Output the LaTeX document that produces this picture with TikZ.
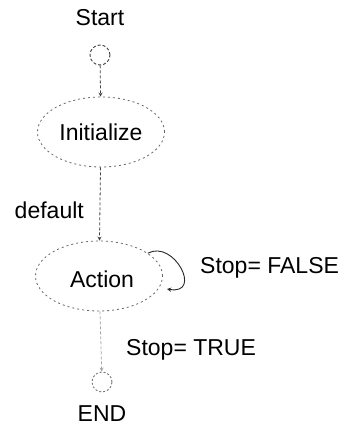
\documentclass[tikz,border=0pt]{standalone}
\usepackage{fontspec}
\setmainfont{Liberation Sans}
\usetikzlibrary{shapes.geometric}
\begin{document}
\begin{tikzpicture}[x=1pt,y=-1pt]
	\tikzstyle{state}=[ellipse,draw=black!60,line width=0.8pt,dash pattern=on 2pt off 3pt,minimum width=127pt,minimum height=70pt,font=\fontsize{23}{26}\selectfont]
	\tikzstyle{terminal}=[circle,draw=black!75,line width=0.9pt,dash pattern=on 3pt off 2pt,minimum size=20pt,inner sep=0pt]
	\tikzstyle{edge}=[draw,line width=0.8pt,black!75,dash pattern=on 3pt off 2pt,->,>=stealth]
	\tikzstyle{tag}=[font=\fontsize{23}{26}\selectfont,inner sep=0pt]
	\useasboundingbox (0,0) rectangle (345,434);
	\begin{scope}
		\node [tag] (start) at (100,18) {Start};
		\node [terminal] (s0) at (100,55) {};
		\node [state] (init) at (101,132) {Initialize};
		\node [state] (act) at (99,276) {};
		\node [tag] (actlbl) at (102,279) {Action};
		\node [terminal,draw=black!55,dash pattern=on 2pt off 2pt] (s1) at (102,382) {};
		\node [tag] (endlbl) at (102,414) {END};
		\node [tag,anchor=east] (dflt) at (84,210) {default};
		\node [tag,anchor=west] (sfalse) at (200,268) {Stop= FALSE};
		\node [tag,anchor=west] (strue) at (126,350) {Stop= TRUE};
		\coordinate (loopend) at (167,289);
		\path[edge] (s0) edge (init);
		\path[edge] (init) edge (act);
		\path[edge,black!35] (act) edge (s1);
		\draw[->,>=stealth,line width=0.9pt,black!85] (act.25) .. controls +(26,-14) and +(36,6) .. (loopend);
	\end{scope}
\end{tikzpicture}
\end{document}
